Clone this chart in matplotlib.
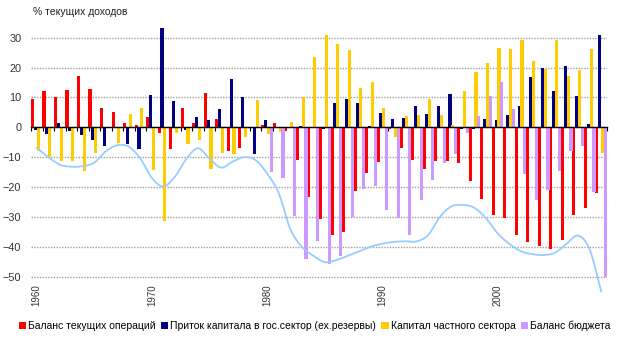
import numpy as np
import matplotlib
matplotlib.use('Agg')
import matplotlib.pyplot as plt
from matplotlib.patches import Patch
from matplotlib import font_manager

years = list(range(1960, 2010))

current_account = [9.4, 12.2, 10.2, 12.6, 17.2, 12.8, 6.4, 5.1, 1.4, 0.8,
                   3.3, -2.0, -7.1, 6.4, 1.4, 11.6, 2.8, -8.1, -6.8, 0.0,
                   0.7, 1.4, -1.4, -10.8, -23.4, -30.6, -36.0, -35.2, -21.4, -15.4,
                   -11.5, -0.5, -6.8, -11.0, -13.8, -11.4, -11.4, -11.8, -18.1, -23.9,
                   -29.4, -30.3, -36.1, -38.3, -39.8, -40.9, -37.6, -29.4, -27.2, -22.1]

public_inflow = [-1.0, -2.2, 1.4, -1.1, -2.6, -4.2, -6.4, 0.0, -5.6, -7.1,
                 10.8, 33.2, 8.8, -0.9, 3.4, 2.4, 6.1, 16.1, 10.0, -8.9,
                 2.4, 0.0, 0.0, 0.6, 0.0, -0.5, 8.2, 9.4, 8.0, 0.4,
                 4.8, 2.8, 3.1, 7.1, 4.4, 7.1, 11.1, -0.4, -0.7, 2.8,
                 2.6, 4.1, 7.1, 16.9, 20.0, 12.2, 20.4, 10.4, 1.1, 31.1]

private_capital = [-8.0, -10.0, -11.4, -11.4, -14.8, -8.7, 0.0, -5.3, 4.4, 6.4,
                   -14.2, -31.4, -1.8, -5.6, -4.4, -13.9, -8.7, -8.9, -3.4, 9.2,
                   -2.2, -1.7, 1.7, 10.3, 23.6, 31.1, 27.8, 25.8, 13.3, 15.1,
                   6.6, -3.4, 3.8, 4.1, 9.4, 4.1, 0.7, 12.1, 18.4, 21.4,
                   26.7, 26.3, 29.1, 22.2, 19.7, 29.1, 17.1, 19.1, 26.4, -8.7]

budget_balance = [np.nan] * 20 + [
                  -15.1, -17.1, -29.6, -44.1, -38.0, -45.7, -43.2, -30.2, -20.8, -19.8,
                  -27.8, -30.5, -36.1, -24.2, -17.8, -12.0, -8.8, -2.0, 3.7, 10.4,
                  15.1, 6.2, -15.6, -24.4, -21.1, -14.8, -8.1, -6.4, -21.7, -50.0]

trend_line = [-7.0, -10.0, -12.5, -13.2, -13.0, -11.8, -8.0, -6.0, -6.5, -10.5,
              -17.0, -19.8, -16.5, -10.5, -7.0, -10.5, -13.5, -11.5, -10.0, -11.0,
              -15.5, -22.0, -34.0, -40.0, -43.0, -45.2, -44.5, -43.0, -41.5, -40.0,
              -39.0, -38.4, -38.2, -38.2, -36.0, -30.0, -26.5, -26.0, -27.0, -30.5,
              -35.5, -39.0, -41.5, -42.5, -42.8, -42.0, -39.0, -36.3, -41.0, -55.0]

series_labels = ['Баланс текущих операций',
                 'Приток капитала в гос.сектор (ех.резервы)',
                 'Капитал частного сектора',
                 'Баланс бюджета']
colors = ['#FF0000', '#000080', '#FFCC00', '#CC99FF']
year_ticks = [1960, 1970, 1980, 1990, 2000]


def catmull_rom(xs, ys, n=12):
    xs = np.asarray(xs, float); ys = np.asarray(ys, float)
    px = np.concatenate([[2 * xs[0] - xs[1]], xs, [2 * xs[-1] - xs[-2]]])
    py = np.concatenate([[2 * ys[0] - ys[1]], ys, [2 * ys[-1] - ys[-2]]])
    ox, oy = [], []
    for i in range(1, len(px) - 2):
        t = np.linspace(0, 1, n, endpoint=False)
        for P, out in ((px, ox), (py, oy)):
            p0, p1, p2, p3 = P[i - 1], P[i], P[i + 1], P[i + 2]
            out.extend(0.5 * ((2 * p1) + (-p0 + p2) * t +
                              (2 * p0 - 5 * p1 + 4 * p2 - p3) * t ** 2 +
                              (-p0 + 3 * p1 - 3 * p2 + p3) * t ** 3))
    ox.append(xs[-1]); oy.append(ys[-1])
    return np.array(ox), np.array(oy)


avail = {f.name for f in font_manager.fontManager.ttflist}
narrow = 'Liberation Sans Narrow' if 'Liberation Sans Narrow' in avail else 'Liberation Sans'
plt.rcParams['font.family'] = ['Liberation Sans', 'DejaVu Sans']

fig = plt.figure(figsize=(6.29, 3.52), dpi=100)
ax = fig.add_axes([31 / 629, (352 - 280.1) / 352, 576 / 629, 260.2 / 352])

x = np.arange(len(years))
w = 0.27
all_series = [current_account, public_inflow, private_capital, budget_balance]
offs = [-0.375, -0.125, 0.125, 0.375]
for s, c, o in zip(all_series, colors, offs):
    ax.bar(x + o, s, w, color=c, zorder=3, linewidth=0)

lx, ly = catmull_rom(x, trend_line)
ax.plot(lx, ly, color='#99CCFF', lw=1.3, zorder=5, clip_on=False)

ax.set_xlim(-0.5, len(years) - 0.5)
ax.set_ylim(-51.2, 36)
ax.set_yticks(range(-50, 31, 10))
ax.yaxis.grid(True, color='#a0a0a0', ls=(0, (1, 1)), lw=1.0)
ax.set_axisbelow(True)
ax.tick_params(axis='y', length=0, pad=7, labelsize=7.8, labelcolor='#333333')
for sp in ['left', 'right', 'top']:
    ax.spines[sp].set_visible(False)
ax.spines['bottom'].set_position(('data', 0))
ax.spines['bottom'].set_zorder(6)
ax.spines['bottom'].set_linewidth(1.0)
ax.set_xticks(np.arange(-0.5, len(years), 1))
ax.tick_params(axis='x', length=3, width=0.8, direction='out', labelbottom=False)

sec = ax.secondary_xaxis(0.0)
sec.set_xticks([years.index(y) for y in year_ticks])
sec.set_xticklabels([str(y) for y in year_ticks], rotation=90)
sec.tick_params(length=0, pad=3, labelsize=7, labelcolor='#333333')
sec.spines['bottom'].set_visible(False)

fig.text(33 / 629, 1 - 12 / 352, '% текущих доходов', fontsize=7.5, va='center', ha='left', color='#222222')

handles = [Patch(facecolor=c, edgecolor='none') for c in colors]
fig.legend(handles, series_labels, loc='center', bbox_to_anchor=(0.5, 1 - 326 / 352), ncol=4,
           frameon=False, handlelength=0.7, handleheight=0.7, handletextpad=0.2, columnspacing=0.5,
           prop={'family': narrow, 'size': 7.5})

fig.savefig('out.png', dpi=100)
